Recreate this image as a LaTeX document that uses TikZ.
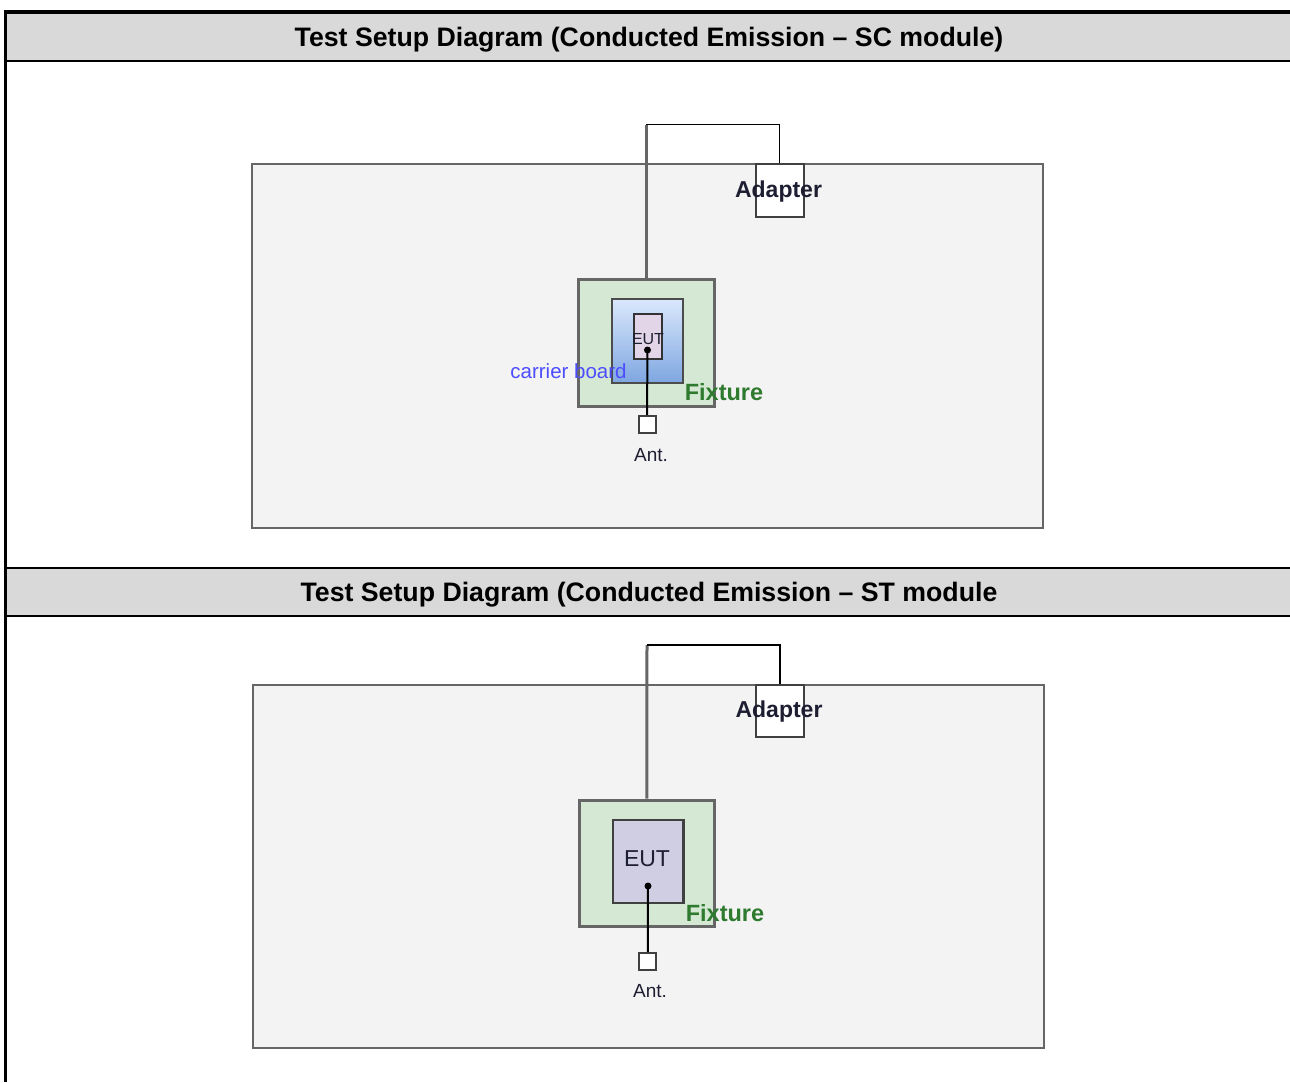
\documentclass[tikz,border=0pt]{standalone}
\usepackage{fontspec}
\setmainfont{Liberation Sans}
\definecolor{hdrgray}{HTML}{D9D9D9}
\definecolor{panelfill}{HTML}{F3F3F3}
\definecolor{panelline}{HTML}{666666}
\definecolor{fixfill}{HTML}{D5E8D4}
\definecolor{cbtop}{HTML}{DAE8FC}
\definecolor{cbbot}{HTML}{7EA6E0}
\definecolor{eutfill}{HTML}{E1D5E7}
\definecolor{eutbig}{HTML}{D0CEE2}
\definecolor{fixgreen}{HTML}{2E7A2E}
\definecolor{cbblue}{HTML}{4D4DFF}
\definecolor{darktxt}{HTML}{1E1E32}
\newcommand{\fs}[1]{\fontsize{#1}{#1}\selectfont}
\begin{document}
\begin{tikzpicture}[x=1pt,y=-1pt,
  panel/.style={draw=panelline,fill=panelfill,line width=2.5pt,inner sep=0pt},
  fixbox/.style={draw=panelline,fill=fixfill,line width=3pt,inner sep=0pt},
  cbbox/.style={draw=black!70,top color=cbtop,bottom color=cbbot,line width=2.5pt,inner sep=0pt},
  eutsmall/.style={draw=black!80,fill=eutfill,line width=2pt,inner sep=0pt},
  eutlarge/.style={draw=black!75,fill=eutbig,line width=2.5pt,inner sep=0pt},
  adbox/.style={draw=black!75,fill=white,line width=2pt,inner sep=0pt},
  antbox/.style={draw=black!75,fill=white,line width=2pt,inner sep=0pt,minimum width=17pt,minimum height=17pt},
  dotnode/.style={circle,fill=black,inner sep=0pt,minimum size=7pt},
  graywire/.style={draw=black!60,line width=3pt},
  blackwire/.style={draw=black,line width=1.8pt},
  antwire/.style={draw=black,line width=2pt},
  titletxt/.style={font=\fs{26.7}\bfseries,text=black,inner sep=0pt},
  adtxt/.style={font=\fs{23}\bfseries,text=darktxt,inner sep=0pt},
  fixtxt/.style={font=\fs{23.5}\bfseries,text=fixgreen,inner sep=0pt},
  cbtxt/.style={font=\fs{20.5},text=cbblue,inner sep=0pt},
  anttxt/.style={font=\fs{19},text=darktxt,inner sep=0pt},
]
\useasboundingbox (0,0) rectangle (1290,1082);
\fill[white] (0,0) rectangle (1290,1082);
% headers
\fill[hdrgray] (7,14) rectangle (1290,60);
\fill[hdrgray] (7,569) rectangle (1290,615);
\draw[line width=4pt] (4,12) -- (1290,12);
\draw[line width=2.2pt] (7,61) -- (1290,61);
\draw[line width=1.4pt] (7,568) -- (1290,568);
\draw[line width=2.4pt] (7,616) -- (1290,616);
\draw[line width=3.2pt] (5.5,10) -- (5.5,1082);
\node[titletxt] (t1) at (649,40) {Test Setup Diagram (Conducted Emission – SC module)};
\node[titletxt] (t2) at (649,595) {Test Setup Diagram (Conducted Emission – ST module};

% ===== panel 1 =====
\node[panel,minimum width=791pt,minimum height=364pt] (p1) at (647.5,346) {};
\node[adbox,minimum width=48pt,minimum height=52.5pt] (ad1) at (779.5,190.25) {};
\node[fixbox,minimum width=136pt,minimum height=127pt] (fx1) at (646,342.5) {};
\node[cbbox,minimum width=71pt,minimum height=84pt] (cb1) at (647.5,341) {};
\node[eutsmall,minimum width=28pt,minimum height=45pt] (eu1) at (648,336.5) {};
\node[font=\fs{16},text=darktxt,inner sep=0pt] (eut1) at (648,339) {EUT};
\node[dotnode] (d1) at (647.5,350) {};
\node[antbox] (an1) at (647,424.5) {};
\draw[antwire] (d1.center) -- (an1.north);
\node[anttxt] (at1) at (651,455) {Ant.};
\coordinate (c1) at (646,124.5);
\draw[graywire] (fx1.north) -- (c1);
\draw[blackwire] (c1) -| (ad1.north);
\node[adtxt] (adt1) at (778.5,192) {Adapter};
\node[fixtxt] (fxt1) at (724,392) {Fixture};
\node[cbtxt] (cbt1) at (568.5,371.5) {carrier board};

% ===== panel 2 =====
\node[panel,minimum width=791pt,minimum height=363pt] (p2) at (648.5,866.5) {};
\node[adbox,minimum width=48pt,minimum height=52pt] (ad2) at (780,711) {};
\node[fixbox,minimum width=135.5pt,minimum height=126pt] (fx2) at (646.75,863) {};
\node[eutlarge,minimum width=70.5pt,minimum height=83pt] (eu2) at (648.25,861.5) {};
\node[font=\fs{23},text=darktxt,inner sep=0pt] (eut2) at (647,859) {EUT};
\node[dotnode] (d2) at (648,886) {};
\node[antbox] (an2) at (647.75,961.5) {};
\draw[antwire] (d2.center) -- (an2.north);
\node[anttxt] (at2) at (650,991) {Ant.};
\coordinate (c2) at (647,645);
\draw[graywire] (fx2.north) -- (c2);
\draw[blackwire] (c2) -| (ad2.north);
\node[adtxt] (adt2) at (779,712) {Adapter};
\node[fixtxt] (fxt2) at (725,913) {Fixture};
\end{tikzpicture}
\end{document}
